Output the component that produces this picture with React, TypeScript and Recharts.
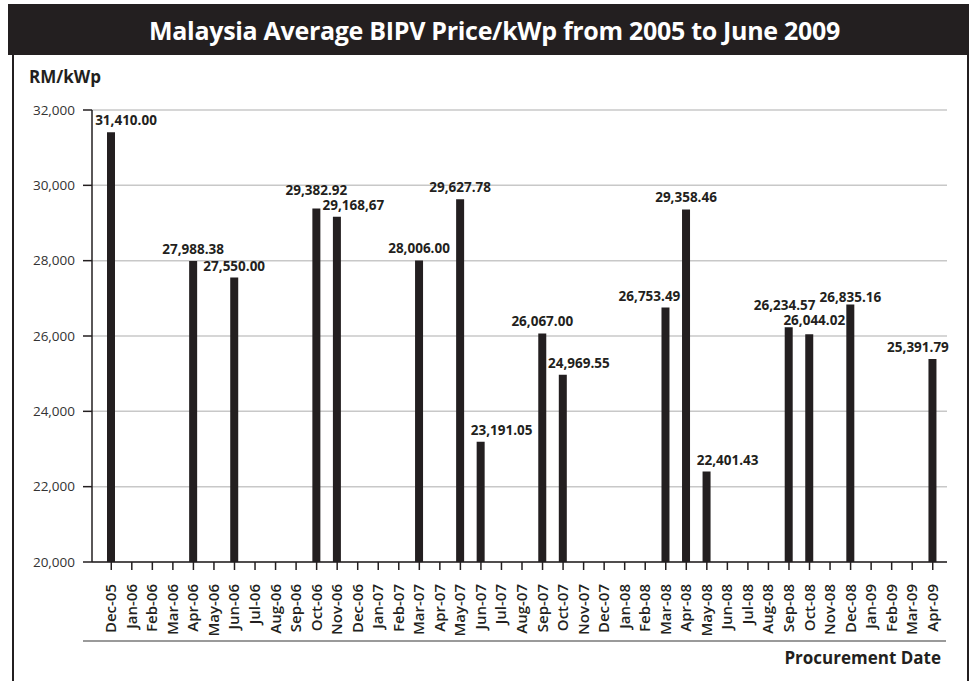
import React from "react"
import { BarChart, Bar, CartesianGrid, XAxis, YAxis, LabelList } from "recharts"

const months = [
	"Dec-05", "Jan-06", "Feb-06", "Mar-06", "Apr-06", "May-06", "Jun-06", "Jul-06", "Aug-06", "Sep-06",
	"Oct-06", "Nov-06", "Dec-06", "Jan-07", "Feb-07", "Mar-07", "Apr-07", "May-07", "Jun-07", "Jul-07",
	"Aug-07", "Sep-07", "Oct-07", "Nov-07", "Dec-07", "Jan-08", "Feb-08", "Mar-08", "Apr-08", "May-08",
	"Jun-08", "Jul-08", "Aug-08", "Sep-08", "Oct-08", "Nov-08", "Dec-08", "Jan-09", "Feb-09", "Mar-09",
	"Apr-09",
]

// months with a procurement price (RM/kWp)
const priceMonths = [
	"Dec-05", "Apr-06", "Jun-06", "Oct-06", "Nov-06", "Mar-07", "May-07", "Jun-07", "Sep-07",
	"Oct-07", "Mar-08", "Apr-08", "May-08", "Sep-08", "Oct-08", "Dec-08", "Apr-09",
]
const prices = [
	31410.0, 27988.38, 27550.0, 29382.92, 29168.67, 28006.0, 29627.78, 23191.05, 26067.0,
	24969.55, 26753.49, 29358.46, 22401.43, 26234.57, 26044.02, 26835.16, 25391.79,
]
// the source prints the Nov-06 value with a comma instead of a point
const priceLabels = [
	"31,410.00", "27,988.38", "27,550.00", "29,382.92", "29,168,67", "28,006.00", "29,627.78", "23,191.05", "26,067.00",
	"24,969.55", "26,753.49", "29,358.46", "22,401.43", "26,234.57", "26,044.02", "26,835.16", "25,391.79",
]
const yTicks = [20000, 22000, 24000, 26000, 28000, 30000, 32000]

// label nudges so neighbouring values don't collide
const labelNudge: Record<string, [number, number]> = {
	"Dec-05": [15, 0],
	"Oct-06": [0, -7],
	"Nov-06": [16.5, 0],
	"Jun-07": [21, 0],
	"Oct-07": [16, 0],
	"Mar-08": [-16, 0],
	"May-08": [21, 0],
	"Sep-08": [-4, -10],
	"Oct-08": [5, -2],
	"Dec-08": [0, 4],
	"Apr-09": [-14.5, 0],
}

const data = months.map((m) => {
	const i = priceMonths.indexOf(m)
	return { month: m, price: i >= 0 ? prices[i] : null, label: i >= 0 ? priceLabels[i] : "" }
})

const ink = "#231f20"
const font = "'Open Sans', 'Noto Sans', sans-serif"

const MonthTick = ({ x, y, payload }: any) => (
	<text
		transform={`translate(${x + 5},${y + 12}) rotate(-90)`}
		textAnchor="end"
		fontSize={15}
		fontWeight={600}
		fill={ink}
		fontFamily={font}
	>
		{payload.value}
	</text>
)

const ValueLabel = (props: any) => {
	const { x, y, width, value } = props
	if (!value) return null
	const i = priceLabels.indexOf(value)
	const [dx, dy] = labelNudge[priceMonths[i]] ?? [0, 0]
	return (
		<text
			x={x + width / 2 + dx}
			y={y - 7 + dy}
			textAnchor="middle"
			fontSize={13.5}
			fontWeight={700}
			fill={ink}
			fontFamily={font}
		>
			{value}
		</text>
	)
}

export default function App() {
	return (
		<div style={{ position: "relative", width: 974, height: 681, background: "#fff", fontFamily: font, overflow: "hidden" }}>
			<style>{`body{margin:0}`}</style>
			<div
				style={{
					position: "absolute", left: 8, top: 4, width: 961, height: 51, background: ink, color: "#fff",
					display: "flex", alignItems: "center", justifyContent: "center", fontSize: 25, fontWeight: 700,
					letterSpacing: -0.3, paddingLeft: 12, boxSizing: "border-box",
				}}
			>
				Malaysia Average BIPV Price/kWp from 2005 to June 2009
			</div>
			<div style={{ position: "absolute", left: 12, top: 55, width: 2, height: 626, background: ink }} />
			<div style={{ position: "absolute", left: 967, top: 55, width: 2, height: 626, background: ink }} />
			<div style={{ position: "absolute", left: 29, top: 65, fontSize: 17, fontWeight: 700, color: ink }}>RM/kWp</div>
			<div style={{ position: "absolute", left: 83, top: 640, width: 863, height: 2, background: "#9a9a9a" }} />
			<div style={{ position: "absolute", right: 33, top: 646, fontSize: 17, fontWeight: 700, color: ink }}>Procurement Date</div>
			<div style={{ position: "absolute", left: 0, top: 0 }}>
				<BarChart width={974} height={681} data={data} margin={{ top: 110, right: 27, left: 0, bottom: 41 }}>
					<CartesianGrid vertical={false} stroke="#c8c8c8" strokeWidth={1.5} />
					<XAxis
						dataKey="month"
						interval={0}
						height={78}
						padding={{ left: 9, right: 4 }}
						axisLine={{ stroke: ink, strokeWidth: 1.5 }}
						tickLine={{ stroke: ink, strokeWidth: 1.5 }}
						tickSize={8}
						tick={<MonthTick />}
					/>
					<YAxis
						domain={[20000, 32000]}
						ticks={yTicks}
						width={92}
						interval={0}
						axisLine={{ stroke: ink, strokeWidth: 1.5 }}
						tickLine={{ stroke: ink, strokeWidth: 1.5 }}
						tickSize={9}
						tickMargin={8}
						tick={{ fill: "#333", fontSize: 13.5, fontFamily: font }}
						tickFormatter={(v: number) => v.toLocaleString("en-US")}
					/>
					<Bar dataKey="price" fill={ink} barSize={8} isAnimationActive={false}>
						<LabelList dataKey="label" content={<ValueLabel />} />
					</Bar>
				</BarChart>
			</div>
		</div>
	)
}
